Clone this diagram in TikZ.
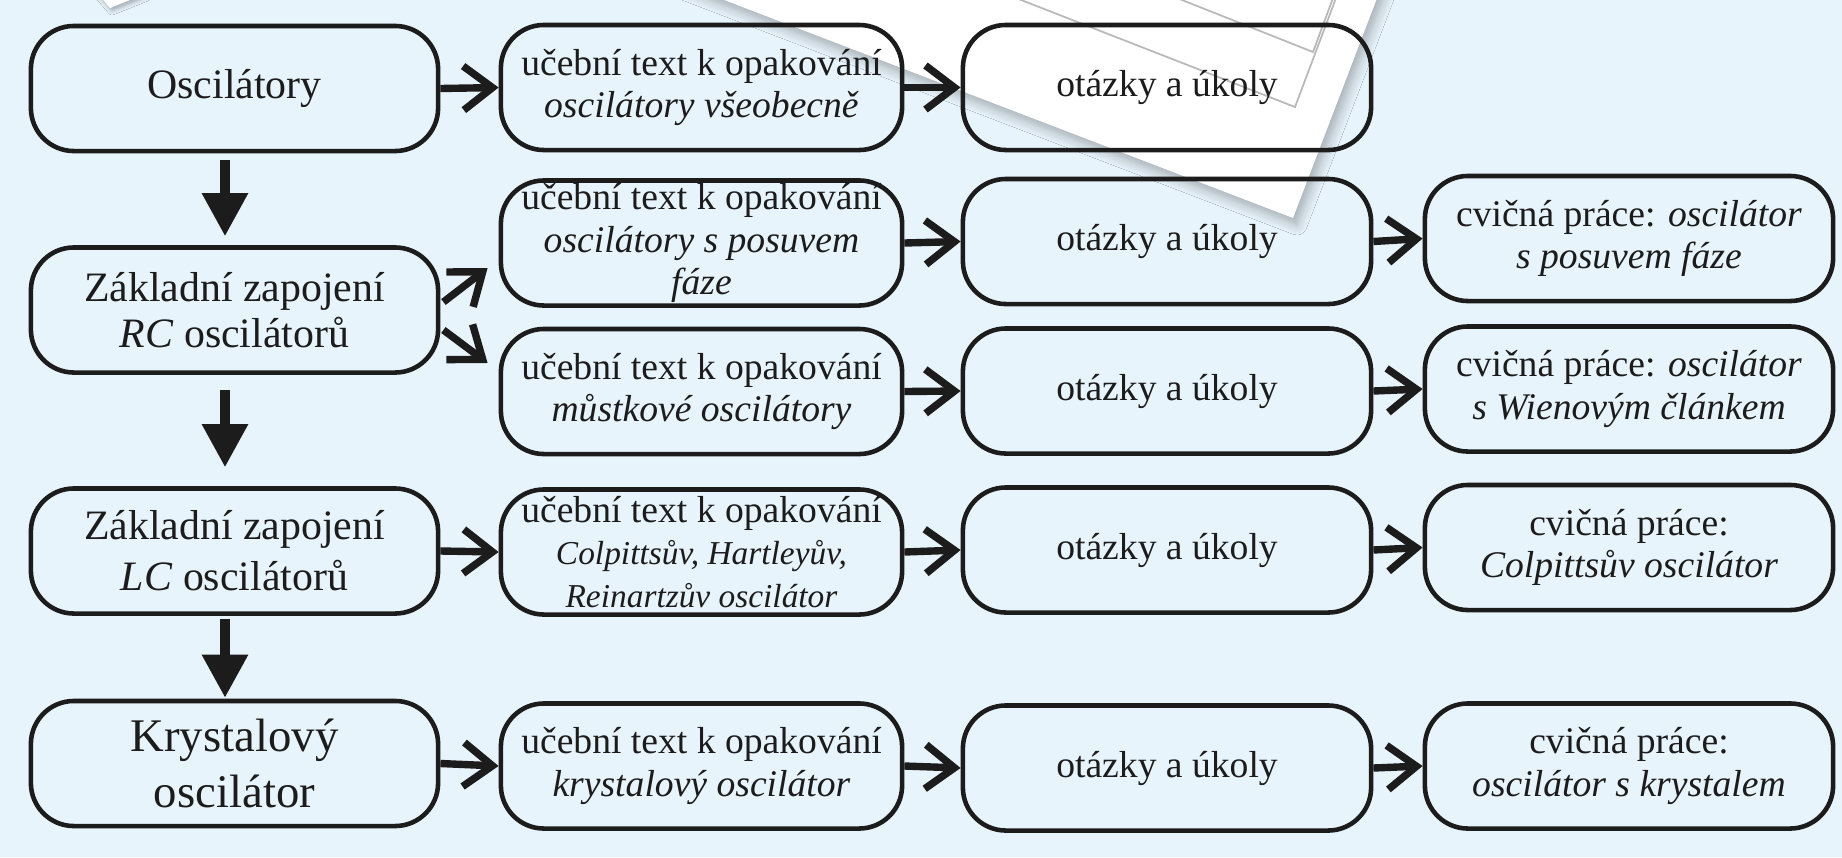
\documentclass[tikz,border=0pt]{standalone}
\usepackage{fontspec}
\setmainfont{Liberation Serif}
\usetikzlibrary{arrows.meta,shadows.blur}
\definecolor{bg}{RGB}{232,244,252}
\definecolor{ink}{RGB}{28,28,28}
\begin{document}
\begin{tikzpicture}[x=0.01cm,y=-0.01cm,
  box/.style={draw=ink, line width=1.3pt, rounded corners=0.43cm, minimum height=1.25cm,
    inner sep=0pt, align=center, text=ink, font=\fontsize{10.7}{12}\selectfont},
  bigbox/.style={box, font=\fontsize{11.9}{13.2}\selectfont},
  wA/.style={minimum width=4.07cm},
  wB/.style={minimum width=4.01cm},
  wC/.style={minimum width=4.08cm},
  wD/.style={minimum width=4.08cm},
  harrow/.style={draw=ink, line width=2.1pt, -{Straight Barb[length=2.9mm,width=4.4mm]}},
  varrow/.style={draw=ink, line width=2.6pt, -{Triangle[length=4.3mm,width=4.4mm]}},
  sheet/.style={fill=white, blur shadow={shadow xshift=0.4mm, shadow yshift=-0.7mm, shadow opacity=30, shadow blur radius=1mm, shadow blur steps=8}},
  tipsheet/.style={fill=white, blur shadow={shadow xshift=0.2mm, shadow yshift=-0.3mm, shadow opacity=30, shadow blur radius=0.4mm, shadow blur steps=5}},
  sheetline/.style={draw=gray!55, line width=0.5pt}]
\useasboundingbox (0,0) rectangle (1842,857);
\fill[bg] (0,0) rectangle (1842,857);
% decorative stack of sheets
\path[sheet] (672,-20) -- (1293,218) -- (1384,-20) -- cycle;
\draw[sheetline] (1016,-2) -- (1295,107) -- (1336,-2);
\draw[sheetline] (1177,-2) -- (1313,52) -- (1333,-2);
\path[tipsheet] (98,-6) -- (110,8) -- (145,-6) -- cycle;
% column 1
\node[bigbox, wA] (a1) at (234.5,88.5) {Oscilátory};
\node[bigbox, wA] (a2) at (234.5,310) {Základní zapojení\\\textit{RC} oscilátorů};
\node[box, wA, font=\fontsize{11.9}{14.5}\selectfont] (a3) at (234.5,551) {Základní zapojení\\\textit{LC} oscilátorů};
\node[box, wA, font=\fontsize{13.3}{16}\selectfont] (a4) at (234.5,763.5) {Krystalový\\oscilátor};
% column 2
\node[box, wB] (b1) at (701.5,87.5) {učební text k opakování\\\textit{oscilátory všeobecně}};
\node[box, wB] (b2) at (701.5,243) {učební text k opakování\\\textit{oscilátory s posuvem}\\\textit{fáze}};
\node[box, wB] (b3) at (701.5,391.5) {učební text k opakování\\\textit{můstkové oscilátory}};
\node[box, wB] (b4) at (701.5,552) {učební text k opakování\\{\fontsize{9.5}{11.5}\selectfont\itshape Colpittsův, Hartleyův,}\\{\fontsize{9.5}{11.5}\selectfont\itshape Reinartzův oscilátor}};
\node[box, wB] (b5) at (701.5,766) {učební text k opakování\\\textit{krystalový oscilátor}};
% column 3
\node[box, wC] (c1) at (1167,87.5) {otázky a úkoly};
\node[box, wC] (c2) at (1167,241.5) {otázky a úkoly};
\node[box, wC] (c3) at (1167,391) {otázky a úkoly};
\node[box, wC] (c4) at (1167,550) {otázky a úkoly};
\node[box, wC] (c5) at (1167,768) {otázky a úkoly};
% column 4
\node[box, wD] (d2) at (1629,238.5) {cvičná práce: \textit{oscilátor}\\\textit{s posuvem fáze}};
\node[box, wD] (d3) at (1629,389) {cvičná práce: \textit{oscilátor}\\\textit{s Wienovým článkem}};
\node[box, wD] (d4) at (1629,547.5) {cvičná práce:\\\textit{Colpittsův oscilátor}};
\node[box, wD] (d5) at (1629,766) {cvičná práce:\\\textit{oscilátor s krystalem}};
% vertical arrows
\draw[varrow] ([xshift=-0.095cm,yshift=-0.07cm]a1.south) -- ([xshift=-0.095cm,yshift=0.09cm]a2.north);
\draw[varrow] ([xshift=-0.095cm,yshift=-0.15cm]a2.south) -- ([xshift=-0.095cm,yshift=0.19cm]a3.north);
\draw[varrow] ([xshift=-0.095cm,yshift=-0.03cm]a3.south) -- ([xshift=-0.095cm,yshift=0.01cm]a4.north);
% diagonal arrows
\draw[harrow] ([xshift=0.03cm,yshift=0.08cm]a2.east) -- ([xshift=-0.11cm,yshift=-0.25cm]b2.west);
\draw[harrow] ([xshift=0.03cm,yshift=-0.20cm]a2.east) -- ([xshift=-0.11cm,yshift=0.285cm]b3.west);
% horizontal arrows
\draw[harrow] (a1.east) -- (b1.west);
\draw[harrow] (b1.east) -- (c1.west);
\draw[harrow] (b2.east) -- (c2.west);
\draw[harrow] (c2.east) -- (d2.west);
\draw[harrow] (b3.east) -- (c3.west);
\draw[harrow] (c3.east) -- (d3.west);
\draw[harrow] (a3.east) -- (b4.west);
\draw[harrow] (b4.east) -- (c4.west);
\draw[harrow] (c4.east) -- (d4.west);
\draw[harrow] (a4.east) -- (b5.west);
\draw[harrow] (b5.east) -- (c5.west);
\draw[harrow] (c5.east) -- (d5.west);
\end{tikzpicture}
\end{document}
